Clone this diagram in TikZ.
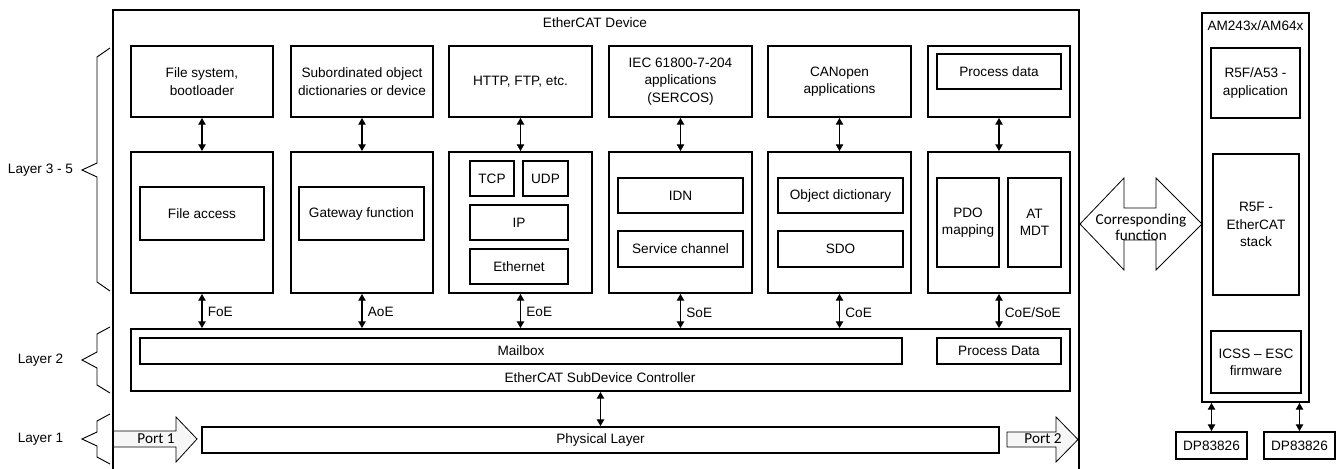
\documentclass[tikz,border=0pt]{standalone}
\usepackage{fontspec}
\setmainfont{Liberation Sans}
\newfontfamily\calfont{Carlito}
\usetikzlibrary{arrows.meta,fit}
\newcommand\fsz{\fontsize{10.2}{13}\selectfont}
\newcommand\csz{\calfont\fontsize{11.4}{12}\selectfont}
\tikzset{
  box/.style={draw, line width=1.4pt, inner sep=0pt},
  dar/.style={line width=0.8pt, {Triangle[length=5pt,width=5.5pt]}-{Triangle[length=5pt,width=5.5pt]}},
  lbl/.style={font=\fsz, inner sep=0pt, align=center},
  clbl/.style={font=\csz, inner sep=0pt, align=center},
  bracel/.style={line width=0.7pt, line join=miter},
  blockarrow/.style={draw, line width=0.6pt, fill=gray!7},
}
\newcommand\Bx[7][]{\node[box,#1,fit={(#3,#4)(#5,#6)}] (#2) {};
  \node[lbl] (#2t) at (#2.center) {#7};}
\begin{document}
\begin{tikzpicture}[x=0.75pt,y=-0.75pt]
\useasboundingbox (0,0) rectangle (1336,468);
\clip (0,0) rectangle (1336,468);
% outer device frame
\Bx{dev}{113}{10}{1079}{485}{}
\node[lbl] (devt) at (595,23) {EtherCAT Device};
% row 1
\Bx{a1}{131}{46}{273}{117}{File system,\\bootloader}
\Bx{a2}{291}{46}{433}{117}{Subordinated object\\dictionaries or device}
\Bx{a3}{449}{46}{592}{117}{HTTP, FTP, etc.}
\Bx{a4}{609}{46}{752}{117}{IEC 61800-7-204\\applications\\(SERCOS)}
\Bx{a5}{768}{46}{911}{117}{CANopen\\applications}
\Bx{a6}{928}{46}{1070}{117}{}
\Bx{a6i}{937}{54}{1061}{89}{Process data}
% row 2
\Bx{b1}{131}{152}{273}{293}{}
\Bx{b2}{291}{152}{433}{293}{}
\Bx{b3}{449}{152}{592}{293}{}
\Bx{b4}{609}{152}{752}{293}{}
\Bx{b5}{768}{152}{911}{293}{}
\Bx{b6}{928}{152}{1070}{293}{}
\Bx{fa}{140}{187}{264}{240}{File access}
\Bx{gw}{299}{187}{424}{240}{Gateway function}
\Bx{tcp}{470}{161}{514}{196}{TCP}
\Bx{udp}{523}{161}{568}{196}{UDP}
\Bx{ip}{470}{205}{568}{240}{IP}
\Bx{eth}{470}{249}{568}{284}{Ethernet}
\Bx{idn}{618}{178}{743}{213}{IDN}
\Bx{sc}{618}{231}{743}{267}{Service channel}
\Bx{od}{778}{178}{903}{213}{Object dictionary}
\Bx{sdo}{778}{231}{903}{267}{SDO}
\Bx{pdo}{937}{178}{999}{267}{PDO\\mapping}
\Bx{at}{1008}{178}{1061}{267}{AT\\MDT}
% row1-row2 arrows
\foreach \i in {1,...,6} \draw[dar] (a\i.south) -- (b\i.north);
% ESC
\Bx{esc}{131}{329}{1070}{391}{}
\Bx{mb}{140}{338}{902}{364}{Mailbox}
\Bx{pd}{937}{338}{1061}{364}{Process Data}
\node[lbl] (escl) at (600,378) {EtherCAT SubDevice Controller};
\foreach \i/\t in {1/FoE,2/AoE,3/EoE,4/SoE,5/CoE,6/{CoE/SoE}}
  \draw[dar] (b\i.south) -- (b\i.south |- esc.north) node[lbl, midway, anchor=west, xshift=4pt, yshift=-1pt] {\t};
% physical
\Bx{phy}{202}{427}{999}{453}{Physical Layer}
\draw[dar] (esc.south) -- (phy.north);
% ports
\path[blockarrow] (114,431) -- (176,431) -- (176,417) -- (197,439) -- (176,462) -- (176,447) -- (114,447);
\path[blockarrow] (1007,432) -- (1056,432) -- (1056,417) -- (1078,439.5) -- (1056,462) -- (1056,447) -- (1007,447) -- cycle;
\node[clbl] (p1) at (156,439) {Port 1};
\node[clbl] (p2) at (1043,439) {Port 2};
% braces
\draw[bracel] (110,48) -- (97,57) -- (97,163) -- (82,170) -- (97,177) -- (97,282) -- (110,291);
\draw[bracel] (110,327) -- (97,334) -- (97,352) -- (82,360) -- (97,368) -- (97,385) -- (110,393);
\draw[bracel] (110,414) -- (97,421) -- (97,432) -- (82,439) -- (97,446) -- (97,457) -- (110,464);
\node[lbl] (l35) at (40.5,170) {Layer 3 - 5};
\node[lbl] (l2) at (40.5,360) {Layer 2};
\node[lbl] (l1) at (40.5,439) {Layer 1};
% corresponding function
\draw[line width=0.6pt, fill=white, line join=miter] (1080,224) -- (1124,178) -- (1124,208) -- (1156,208) -- (1156,178) -- (1202,224) -- (1156,270) -- (1156,240) -- (1124,240) -- (1124,270) -- cycle;
\node[clbl] (cf) at (1141,227) {Corresponding\\function};
% AM243x
\Bx{am}{1202}{13}{1309}{402}{}
\node[lbl] (amt) at (1255.5,26) {AM243x/AM64x};
\Bx{app}{1211}{48}{1300}{118}{R5F/A53 -\\application}
\Bx{stk}{1213}{154}{1299}{295}{R5F -\\EtherCAT\\stack}
\Bx{icss}{1211}{331}{1301}{393}{ICSS -- ESC\\firmware}
\Bx{dp1}{1176}{432}{1247}{459}{DP83826}
\Bx{dp2}{1264}{432}{1335}{459}{DP83826}
\draw[dar] (am.south -| dp1.north) -- (dp1.north);
\draw[dar] (am.south -| dp2.north) -- (dp2.north);
\end{tikzpicture}
\end{document}
